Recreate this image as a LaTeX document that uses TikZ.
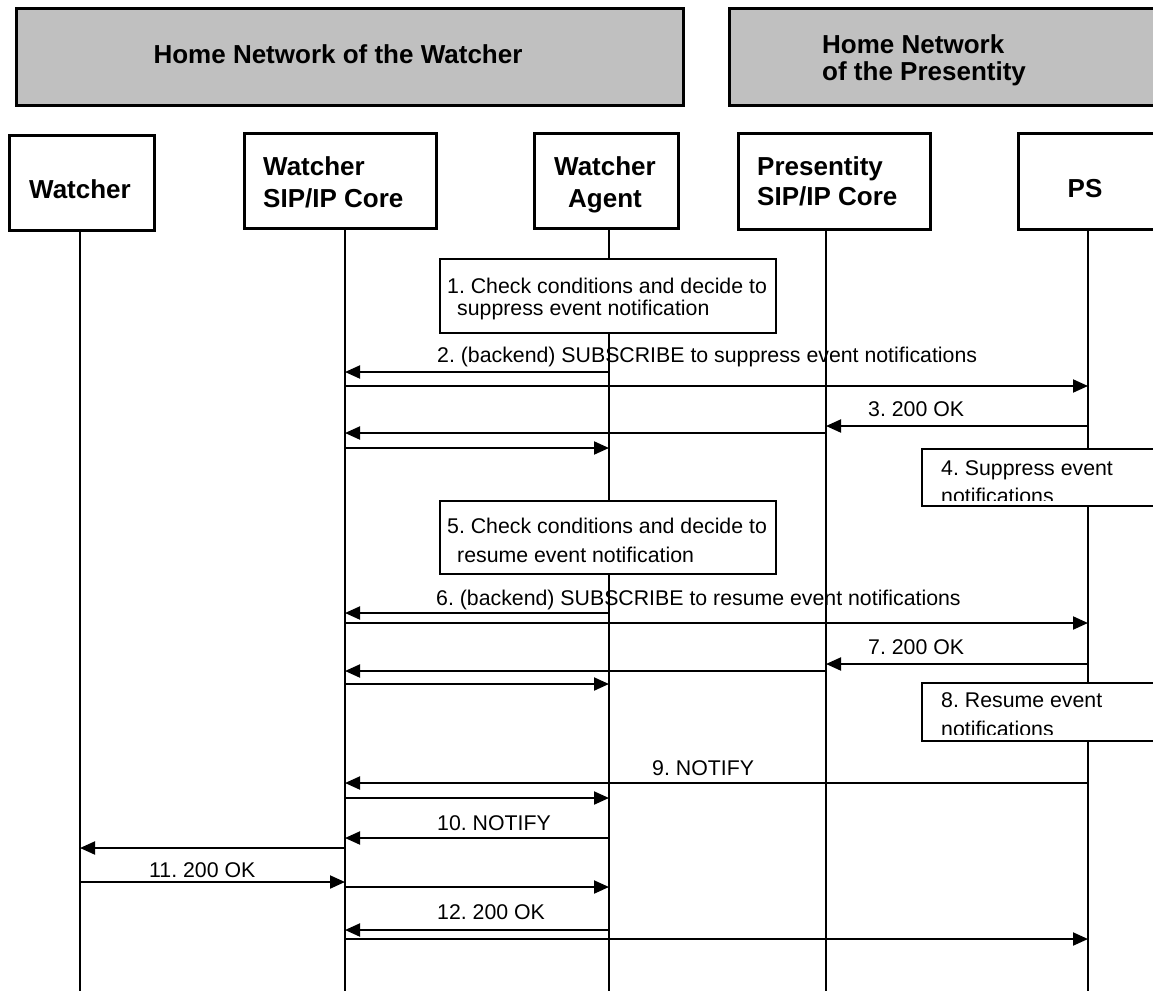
\documentclass[tikz,border=0pt]{standalone}
\usepackage{fontspec}
\setmainfont{Liberation Sans}
\usetikzlibrary{arrows.meta}
\definecolor{grayfill}{RGB}{192,192,192}
\frenchspacing
\begin{document}
\begin{tikzpicture}[x=1pt,y=-1pt,
  bt/.style={font=\fontsize{26}{31}\selectfont\bfseries, inner sep=0pt},
  txt/.style={font=\fontsize{21.3}{25}\selectfont, inner sep=0pt, anchor=base west},
  grp/.style={draw=black, line width=2.5pt, fill=grayfill, anchor=north west, inner sep=0pt},
  ent/.style={draw=black, line width=2.5pt, fill=white, anchor=north west, inner sep=0pt},
  note/.style={draw=black, line width=2pt, fill=white, anchor=north west, inner sep=0pt},
  life/.style={line width=1.6pt},
  msg/.style={line width=2pt, -{Triangle[length=15pt,width=13pt]}}]
\useasboundingbox (0,0) rectangle (1153,991);

% group headers
\node[grp, minimum width=667pt, minimum height=97pt] (hw) at (15,7) {};
\node[grp, minimum width=460pt, minimum height=97pt] (hp) at (728,7) {};
\node[bt, anchor=base] (hwt) at (338,63) {Home Network of the Watcher};
\node[bt, anchor=base west] (hpt1) at (822,53) {Home Network};
\node[bt, anchor=base west] (hpt2) at (822,80) {of the Presentity};

% entity boxes
\node[ent, minimum width=145pt, minimum height=95pt] (watcher) at (8,134) {};
\node[ent, minimum width=192pt, minimum height=95pt] (wcore) at (243,132) {};
\node[ent, minimum width=144pt, minimum height=95pt] (agent) at (533,132) {};
\node[ent, minimum width=192pt, minimum height=96pt] (pcore) at (737,132) {};
\node[ent, minimum width=180pt, minimum height=96pt] (ps) at (1017,132) {};

\node[bt, anchor=base] (watchert) at (80,198) {Watcher};
\node[bt, anchor=base west] (wcoret1) at (263,175) {Watcher};
\node[bt, anchor=base west] (wcoret2) at (263,207) {SIP/IP Core};
\node[bt, anchor=base] (agentt1) at (605,175) {Watcher};
\node[bt, anchor=base] (agentt2) at (605,207) {Agent};
\node[bt, anchor=base west] (pcoret1) at (757,175) {Presentity};
\node[bt, anchor=base west] (pcoret2) at (757,205) {SIP/IP Core};
\node[bt, anchor=base] (pst) at (1085,197) {PS};

% lifelines
\coordinate (Lw) at (80,230);
\coordinate (Lc) at (345,228);
\coordinate (La) at (609,228);
\coordinate (Lp) at (826,228);
\coordinate (Ls) at (1088,228);
\foreach \l in {Lw,Lc,La,Lp,Ls}{\draw[life] (\l) -- (\l |- 0,991);}

% notes
\node[note, minimum width=336pt, minimum height=74pt] (n1) at (439,258) {};
\node[txt] (n1a) at (447,293) {1. Check conditions and decide to};
\node[txt] (n1b) at (457,315) {suppress event notification};

\node[note, minimum width=260pt, minimum height=57pt] (n4) at (921,448) {};
\node[txt] (n4a) at (941,475) {4. Suppress event};
\begin{scope}
\clip (921,448) rectangle (1160,500);
\node[txt] (n4b) at (941,503) {notifications};
\end{scope}

\node[note, minimum width=336pt, minimum height=73pt] (n5) at (439,500) {};
\node[txt] (n5a) at (447,533) {5. Check conditions and decide to};
\node[txt] (n5b) at (457,562) {resume event notification};

\node[note, minimum width=260pt, minimum height=58pt] (n8) at (921,682) {};
\node[txt] (n8a) at (941,707) {8. Resume event};
\begin{scope}
\clip (921,682) rectangle (1160,734);
\node[txt] (n8b) at (941,736) {notifications};
\end{scope}

% messages
\node[txt] (m2) at (437,362) {2. (backend) SUBSCRIBE to suppress event notifications};
\draw[msg] (La |- 0,372) -- (Lc |- 0,372);
\draw[msg] (Lc |- 0,386) -- (Ls |- 0,386);

\node[txt] (m3) at (868,416) {3. 200 OK};
\draw[msg] (Ls |- 0,426) -- (Lp |- 0,426);
\draw[msg] (Lp |- 0,433) -- (Lc |- 0,433);
\draw[msg] (Lc |- 0,448) -- (La |- 0,448);

\node[txt] (m6) at (436,605) {6. (backend) SUBSCRIBE to resume event notifications};
\draw[msg] (La |- 0,613) -- (Lc |- 0,613);
\draw[msg] (Lc |- 0,623) -- (Ls |- 0,623);

\node[txt] (m7) at (868,654) {7. 200 OK};
\draw[msg] (Ls |- 0,664) -- (Lp |- 0,664);
\draw[msg] (Lp |- 0,671) -- (Lc |- 0,671);
\draw[msg] (Lc |- 0,684) -- (La |- 0,684);

\node[txt] (m9) at (652,775) {9. NOTIFY};
\draw[msg] (Ls |- 0,783) -- (Lc |- 0,783);
\draw[msg] (Lc |- 0,798) -- (La |- 0,798);

\node[txt] (m10) at (437,830) {10. NOTIFY};
\draw[msg] (La |- 0,838) -- (Lc |- 0,838);
\draw[msg] (Lc |- 0,848) -- (Lw |- 0,848);

\node[txt] (m11) at (149,877) {11. 200 OK};
\draw[msg] (Lw |- 0,882) -- (Lc |- 0,882);
\draw[msg] (Lc |- 0,887) -- (La |- 0,887);

\node[txt] (m12) at (437,919) {12. 200 OK};
\draw[msg] (La |- 0,930) -- (Lc |- 0,930);
\draw[msg] (Lc |- 0,939) -- (Ls |- 0,939);
\end{tikzpicture}
\end{document}
